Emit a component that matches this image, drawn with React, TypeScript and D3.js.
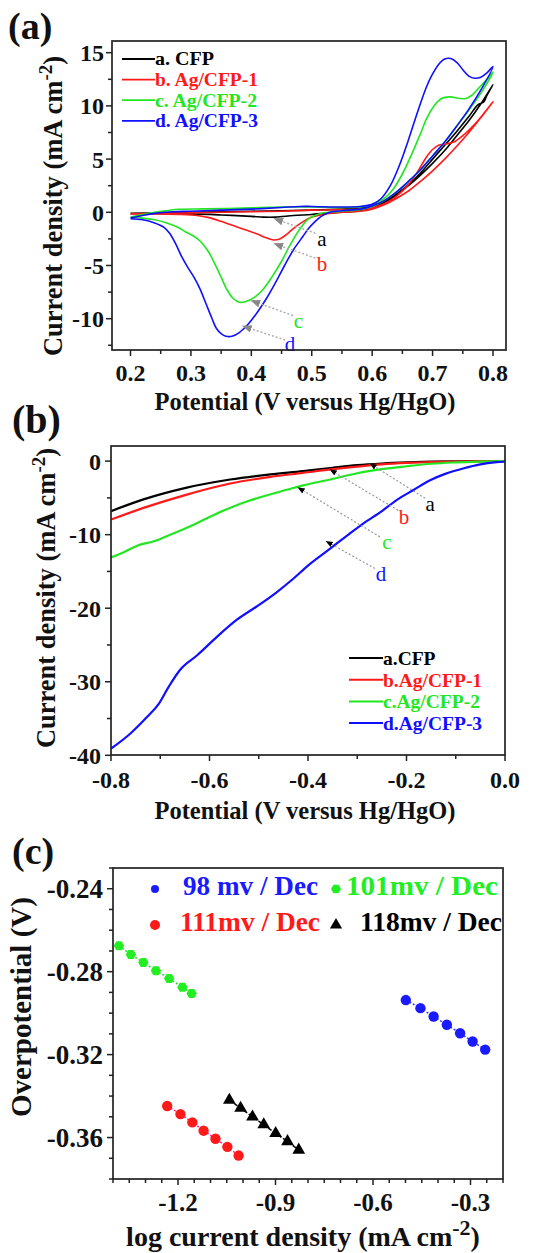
import React from 'react';
import * as d3 from 'd3';

const FONT = "'Liberation Serif','Times New Roman',Times,serif";

// ---------- Panel (a): cyclic voltammetry ----------
const cvNames = ['a. CFP', 'b. Ag/CFP-1', 'c. Ag/CFP-2', 'd. Ag/CFP-3'];
const colors = ['#000000', '#ff1a1a', '#22e622', '#1010ff'];

const cvCFPfwd = [[0.2,-0.1],[0.25,-0.05],[0.3,0.0],[0.35,0.05],[0.4,0.1],[0.45,0.15],[0.5,0.2],[0.55,0.3],[0.58,0.4],[0.6,0.6],[0.62,1.0],[0.64,1.7],[0.66,2.6],[0.68,3.7],[0.7,5.0],[0.72,6.3],[0.74,7.6],[0.76,9.0],[0.775,10.1],[0.785,10.4],[0.79,11.0],[0.8,12.0]];
const cvCFPrev = [[0.8,12.0],[0.78,10.2],[0.76,8.6],[0.74,7.2],[0.72,5.8],[0.7,4.6],[0.68,3.5],[0.66,2.5],[0.64,1.6],[0.62,0.9],[0.6,0.4],[0.58,0.15],[0.55,0.0],[0.52,-0.1],[0.5,-0.2],[0.47,-0.3],[0.44,-0.45],[0.42,-0.45],[0.4,-0.38],[0.35,-0.25],[0.3,-0.15],[0.25,-0.12],[0.2,-0.1]];

const cvAg1fwd = [[0.2,-0.15],[0.25,-0.1],[0.3,-0.05],[0.35,0.0],[0.4,0.05],[0.45,0.1],[0.5,0.2],[0.55,0.25],[0.58,0.3],[0.6,0.45],[0.62,0.8],[0.64,1.5],[0.66,2.6],[0.675,3.8],[0.69,5.2],[0.7,5.9],[0.71,6.3],[0.72,6.4],[0.735,6.6],[0.75,7.2],[0.77,8.3],[0.785,9.3],[0.8,10.4]];
const cvAg1rev = [[0.8,10.4],[0.78,8.9],[0.76,7.5],[0.74,6.2],[0.72,5.0],[0.7,3.9],[0.68,2.9],[0.66,2.0],[0.64,1.3],[0.62,0.7],[0.6,0.3],[0.58,0.1],[0.55,0.0],[0.52,-0.2],[0.5,-0.45],[0.485,-0.9],[0.47,-1.5],[0.458,-2.1],[0.447,-2.5],[0.437,-2.6],[0.425,-2.4],[0.41,-2.05],[0.39,-1.65],[0.37,-1.25],[0.35,-0.85],[0.33,-0.5],[0.31,-0.3],[0.28,-0.2],[0.24,-0.15],[0.2,-0.15]];

const cvAg2fwd = [[0.2,-0.45],[0.22,-0.2],[0.24,0.0],[0.26,0.15],[0.28,0.28],[0.32,0.32],[0.36,0.35],[0.4,0.42],[0.45,0.5],[0.5,0.5],[0.55,0.45],[0.58,0.5],[0.6,0.7],[0.62,1.3],[0.635,2.2],[0.65,3.6],[0.665,5.4],[0.68,7.4],[0.69,8.8],[0.7,9.8],[0.71,10.5],[0.72,10.8],[0.73,10.85],[0.745,10.7],[0.755,10.7],[0.765,11.0],[0.78,11.9],[0.79,12.5],[0.8,13.2]];
const cvAg2rev = [[0.8,13.2],[0.78,11.2],[0.76,9.6],[0.74,8.1],[0.72,6.6],[0.7,5.3],[0.68,4.0],[0.66,2.9],[0.64,1.9],[0.62,1.1],[0.6,0.55],[0.58,0.25],[0.55,0.1],[0.52,-0.05],[0.505,-0.3],[0.495,-0.6],[0.48,-1.6],[0.465,-3.0],[0.45,-4.6],[0.435,-6.0],[0.42,-7.2],[0.405,-8.0],[0.39,-8.4],[0.38,-8.45],[0.37,-8.1],[0.36,-7.3],[0.35,-6.1],[0.34,-4.9],[0.33,-3.8],[0.32,-3.0],[0.31,-2.45],[0.3,-2.1],[0.29,-1.8],[0.28,-1.45],[0.26,-1.0],[0.24,-0.7],[0.22,-0.55],[0.2,-0.45]];

const cvAg3fwd = [[0.2,-0.55],[0.22,-0.3],[0.24,-0.1],[0.27,0.05],[0.3,0.1],[0.35,0.2],[0.4,0.3],[0.45,0.45],[0.48,0.55],[0.5,0.55],[0.55,0.5],[0.58,0.55],[0.6,0.75],[0.615,1.3],[0.63,2.5],[0.645,4.4],[0.66,6.8],[0.675,9.4],[0.69,11.8],[0.7,13.0],[0.71,13.9],[0.72,14.4],[0.73,14.45],[0.74,14.1],[0.75,13.4],[0.76,12.8],[0.77,12.6],[0.78,12.7],[0.79,13.1],[0.8,13.7]];
const cvAg3rev = [[0.8,13.7],[0.78,11.5],[0.76,9.7],[0.74,8.1],[0.72,6.6],[0.7,5.3],[0.68,4.0],[0.66,2.9],[0.64,1.9],[0.62,1.1],[0.6,0.6],[0.58,0.3],[0.55,0.15],[0.53,0.0],[0.515,-0.4],[0.505,-0.9],[0.495,-1.5],[0.485,-2.3],[0.47,-3.5],[0.455,-5.0],[0.44,-6.6],[0.425,-8.1],[0.41,-9.4],[0.395,-10.5],[0.38,-11.3],[0.368,-11.65],[0.358,-11.65],[0.35,-11.4],[0.342,-10.9],[0.335,-10.0],[0.325,-8.6],[0.315,-7.2],[0.305,-6.1],[0.295,-5.2],[0.285,-4.2],[0.275,-3.0],[0.265,-2.0],[0.255,-1.4],[0.24,-1.0],[0.22,-0.7],[0.2,-0.6]];

const cvFwd = [cvCFPfwd, cvAg1fwd, cvAg2fwd, cvAg3fwd];
const cvRev = [cvCFPrev, cvAg1rev, cvAg2rev, cvAg3rev];

const cvLetters = ['a', 'b', 'c', 'd'];
// arrow: [fromX, fromY, toX, toY, labelX, labelY]
const cvArrows = [
  [0.506, -1.97, 0.438, -0.6, 0.517, -2.5],
  [0.506, -4.3, 0.438, -2.95, 0.517, -4.8],
  [0.469, -9.7, 0.40, -8.3, 0.478, -10.15],
  [0.456, -12.0, 0.386, -10.7, 0.464, -12.3],
];

const aXTicks = ['0.2', '0.3', '0.4', '0.5', '0.6', '0.7', '0.8'];
const aYTicks = ['-10', '-5', '0', '5', '10', '15'];

// ---------- Panel (b): LSV ----------
const lsvNames = ['a.CFP', 'b.Ag/CFP-1', 'c.Ag/CFP-2', 'd.Ag/CFP-3'];
const lsvCFP = [[-0.8,-6.8],[-0.734,-5.2],[-0.646,-3.6],[-0.558,-2.5],[-0.476,-1.8],[-0.41,-1.36],[-0.35,-0.9],[-0.3,-0.55],[-0.25,-0.33],[-0.2,-0.18],[-0.15,-0.08],[-0.1,-0.03],[0,0]];
const lsvAg1 = [[-0.8,-7.95],[-0.734,-6.36],[-0.646,-4.55],[-0.558,-3.05],[-0.476,-2.14],[-0.41,-1.6],[-0.35,-1.1],[-0.3,-0.75],[-0.25,-0.45],[-0.2,-0.25],[-0.15,-0.12],[-0.1,-0.05],[0,0]];
const lsvAg2 = [[-0.8,-13.1],[-0.774,-12.4],[-0.747,-11.5],[-0.713,-10.9],[-0.68,-10.0],[-0.64,-8.9],[-0.6,-7.6],[-0.56,-6.4],[-0.52,-5.4],[-0.476,-4.5],[-0.443,-3.9],[-0.41,-3.3],[-0.355,-2.5],[-0.3,-1.65],[-0.25,-1.1],[-0.2,-0.7],[-0.15,-0.36],[-0.1,-0.18],[-0.05,-0.07],[0,0]];
const lsvAg3 = [[-0.8,-39.1],[-0.76,-37.0],[-0.727,-34.8],[-0.703,-33.0],[-0.683,-30.7],[-0.66,-28.4],[-0.625,-26.4],[-0.585,-23.9],[-0.545,-21.6],[-0.505,-19.8],[-0.465,-17.9],[-0.43,-16.0],[-0.4,-14.2],[-0.355,-11.9],[-0.32,-10.1],[-0.288,-8.5],[-0.25,-6.8],[-0.22,-5.3],[-0.185,-3.9],[-0.152,-2.6],[-0.12,-1.7],[-0.085,-1.0],[-0.05,-0.45],[-0.017,-0.15],[0,-0.05]];
const lsvSeries = [lsvCFP, lsvAg1, lsvAg2, lsvAg3];
const lsvArrows = [
  [-0.162, -5.06, -0.274, -0.35, -0.152, -5.74],
  [-0.217, -6.7, -0.355, -1.17, -0.205, -7.6],
  [-0.254, -10.3, -0.42, -3.6, -0.24, -11.0],
  [-0.264, -14.6, -0.363, -10.9, -0.252, -15.3],
];
const bXTicks = ['-0.8', '-0.6', '-0.4', '-0.2', '0.0'];
const bYTicks = ['-40', '-30', '-20', '-10', '0'];

// ---------- Panel (c): Tafel ----------
const tafelNames = ['98 mv / Dec', '101mv / Dec', '111mv / Dec', '118mv / Dec'];
const tafelColors = ['#1a1aff', '#22ee22', '#ff1a1a', '#000000'];
const tafelLineColors = ['#3030ff', '#22dd22', '#ff20a0', '#000000'];
const tafelBlueX = [-0.499, -0.454, -0.4135, -0.3728, -0.332, -0.2935, -0.2548];
const tafelBlueY = [-0.2937, -0.2976, -0.3016, -0.3056, -0.3097, -0.3137, -0.3176];
const tafelGreenX = [-1.3817, -1.345, -1.3064, -1.2678, -1.2271, -1.1864, -1.158];
const tafelGreenY = [-0.2675, -0.2717, -0.2756, -0.2795, -0.2833, -0.2875, -0.2905];
const tafelRedX = [-1.2332, -1.1925, -1.1559, -1.1213, -1.0847, -1.0481, -1.0135];
const tafelRedY = [-0.3448, -0.3487, -0.3527, -0.3567, -0.3606, -0.3645, -0.3687];
const tafelBlackX = [-1.042, -1.0074, -0.9708, -0.9362, -0.8996, -0.863, -0.8285];
const tafelBlackY = [-0.3419, -0.3458, -0.35, -0.3538, -0.358, -0.3619, -0.366];
const tafelX = [tafelBlueX, tafelGreenX, tafelRedX, tafelBlackX];
const tafelY = [tafelBlueY, tafelGreenY, tafelRedY, tafelBlackY];
const tafelShapes = ['circle', 'hexagon', 'circle', 'triangle'];
const tafelDash = ['2,2', '2,2', '2,2', '4,2'];
const cXTicks = ['-1.2', '-0.9', '-0.6', '-0.3'];
const cYTicks = ['-0.24', '-0.28', '-0.32', '-0.36'];

// ---------- helpers ----------
const stepRange = (a: number, b: number, s: number) => {
  const n = Math.round((b - a) / s);
  return d3.range(n + 1).map((i) => +(a + i * s).toFixed(6));
};

type Frame = { l: number; r: number; t: number; b: number };

function Axes(props: {
  f: Frame; x: any; y: any; xMinor: number[]; yMinor: number[];
  xMajor: string[]; yMajor: string[]; xLabelY: number; yLabelX: number; fs: number; fsY?: number;
}) {
  const { f, x, y, xMinor, yMinor, xMajor, yMajor, xLabelY, yLabelX, fs } = props;
  const fsY = props.fsY || fs;
  const majX = new Set(xMajor.map((s) => +(+s).toFixed(6)));
  const majY = new Set(yMajor.map((s) => +(+s).toFixed(6)));
  return (
    <g>
      <rect x={f.l} y={f.t} width={f.r - f.l} height={f.b - f.t} fill="none" stroke="#222" strokeWidth={1.7} />
      {xMinor.map((v, i) => (
        <line key={'xt' + i} x1={x(v)} x2={x(v)} y1={f.b} y2={f.b + (majX.has(v) ? 6 : 4)} stroke="#222" strokeWidth={1.5} />
      ))}
      {yMinor.map((v, i) => (
        <line key={'yt' + i} y1={y(v)} y2={y(v)} x1={f.l} x2={f.l - (majY.has(v) ? 6 : 4)} stroke="#222" strokeWidth={1.5} />
      ))}
      {xMajor.map((s, i) => (
        <text key={'xl' + i} x={x(+s)} y={xLabelY} textAnchor="middle" fontFamily={FONT} fontWeight="bold" fontSize={fs} fill="#111">{s}</text>
      ))}
      {yMajor.map((s, i) => (
        <text key={'yl' + i} x={yLabelX} y={y(+s)} dy="0.35em" textAnchor="end" fontFamily={FONT} fontWeight="bold" fontSize={fsY} fill="#111">{s}</text>
      ))}
    </g>
  );
}

function hexPath(cx: number, cy: number, r: number) {
  const pts = d3.range(6).map((k) => {
    const a = (Math.PI / 3) * k;
    return [cx + r * Math.cos(a), cy + r * Math.sin(a)];
  });
  return 'M' + pts.map((p) => p.join(',')).join('L') + 'Z';
}

function Marker({ shape, cx, cy, color, r }: any) {
  if (shape === 'triangle') {
    const p = d3.symbol().type(d3.symbolTriangle).size(r * r * 2.6)();
    return <path d={p as string} transform={`translate(${cx},${cy})`} fill={color} />;
  }
  if (shape === 'hexagon') return <path d={hexPath(cx, cy, r)} fill={color} />;
  return <circle cx={cx} cy={cy} r={r} fill={color} />;
}

export default function App() {
  // Panel (a)
  const fA: Frame = { l: 112, r: 506, t: 41, b: 350 };
  const xA = d3.scaleLinear().domain([0.2, 0.8]).range([130.5, 493]);
  const yA = d3.scaleLinear().domain([-10, 15]).range([318.7, 52.7]);
  const lineA = d3.line<number[]>().x((d) => xA(d[0])).y((d) => yA(d[1])).curve(d3.curveCatmullRom.alpha(0.5));

  // Panel (b)
  const fB: Frame = { l: 111, r: 505, t: 446, b: 755 };
  const xB = d3.scaleLinear().domain([-0.8, 0]).range([111, 505]);
  const yB = d3.scaleLinear().domain([-40, 2]).range([755.3, 446.4]);
  const lineB = d3.line<number[]>().x((d) => xB(d[0])).y((d) => yB(d[1])).curve(d3.curveMonotoneX);

  // Panel (c)
  const fC: Frame = { l: 113, r: 503, t: 868, b: 1179 };
  const xC = d3.scaleLinear().domain([-1.4, -0.2]).range([113, 503]);
  const yC = d3.scaleLinear().domain([-0.38, -0.23]).range([1179, 868]);

  const legendCWidths = [135, 152, 140, 142];
  const legendAWidths = [59, 103, 102, 103];

  return (
    <svg width={552} height={1253} style={{ position: 'absolute', left: 0, top: 0, background: '#fff' }} fontFamily={FONT}>
      <defs>
        <marker id="arrGray" viewBox="0 0 10 10" refX="9" refY="5" markerWidth="7" markerHeight="7" orient="auto">
          <path d="M0,1 L10,5 L0,9 Z" fill="#888" />
        </marker>
        <marker id="arrBlack" viewBox="0 0 10 10" refX="9" refY="5" markerWidth="6" markerHeight="6" orient="auto">
          <path d="M0,1 L10,5 L0,9 Z" fill="#000" />
        </marker>
        <clipPath id="clipA"><rect x={fA.l} y={fA.t} width={fA.r - fA.l} height={fA.b - fA.t} /></clipPath>
        <clipPath id="clipB"><rect x={fB.l} y={fB.t} width={fB.r - fB.l} height={fB.b - fB.t} /></clipPath>
      </defs>
      <rect x={0} y={0} width={552} height={1253} fill="#fff" />

      {/* ===== Panel (a) ===== */}
      <text x={8} y={39} fontWeight="bold" fontSize={38} fill="#111">(a)</text>
      <g clipPath="url(#clipA)">
        {cvFwd.map((fwd, i) => (
          <path key={'cv' + i} d={lineA(fwd.concat(cvRev[i].slice(1))) as string} fill="none" stroke={colors[i]} strokeWidth={1.6} />
        ))}
      </g>
      {cvArrows.map((a, i) => (
        <g key={'cva' + i}>
          <line x1={xA(a[0])} y1={yA(a[1])} x2={xA(a[2])} y2={yA(a[3])} stroke="#aaa" strokeWidth={1.4} strokeDasharray="2,2" markerEnd="url(#arrGray)" />
          <text x={xA(a[4])} y={yA(a[5])} dy="0.35em" textAnchor="middle" fontSize={21} fill={colors[i]}>{cvLetters[i]}</text>
        </g>
      ))}
      <Axes f={fA} x={xA} y={yA} xMinor={stepRange(0.2, 0.8, 0.05)} yMinor={stepRange(-12.5, 15, 2.5)}
        xMajor={aXTicks} yMajor={aYTicks} xLabelY={381} yLabelX={104} fs={24} />
      {cvNames.map((n, i) => (
        <g key={'lga' + i}>
          <line x1={122} x2={155} y1={59 + i * 20.6} y2={59 + i * 20.6} stroke={colors[i]} strokeWidth={1.8} />
          <text x={155} y={59 + i * 20.6} dy="0.35em" fontWeight="bold" fontSize={18.5} textLength={legendAWidths[i]} lengthAdjust="spacingAndGlyphs" fill={colors[i]}>{n}</text>
        </g>
      ))}
      <text transform={`translate(62,206) rotate(-90)`} textAnchor="middle" fontWeight="bold" fontSize={26.5} fill="#111">
        Current density (mA cm<tspan dy={-10} fontSize={19}>-2</tspan><tspan dy={10}>)</tspan>
      </text>
      <text x={305} y={410} textAnchor="middle" fontWeight="bold" fontSize={24.5} fill="#111">Potential (V versus Hg/HgO)</text>

      {/* ===== Panel (b) ===== */}
      <text x={12} y={433} fontWeight="bold" fontSize={40} fill="#111">(b)</text>
      <g clipPath="url(#clipB)">
        {lsvSeries.map((s, i) => (
          <path key={'lsv' + i} d={lineB(s) as string} fill="none" stroke={colors[i]} strokeWidth={2.2} />
        ))}
      </g>
      {lsvArrows.map((a, i) => (
        <g key={'lsa' + i}>
          <line x1={xB(a[0])} y1={yB(a[1])} x2={xB(a[2])} y2={yB(a[3])} stroke="#999" strokeWidth={1.2} strokeDasharray="2,2" markerEnd="url(#arrBlack)" />
          <text x={xB(a[4])} y={yB(a[5])} dy="0.35em" textAnchor="middle" fontSize={21} fill={colors[i]}>{cvLetters[i]}</text>
        </g>
      ))}
      <Axes f={fB} x={xB} y={yB} xMinor={stepRange(-0.8, 0, 0.1)} yMinor={stepRange(-40, 0, 5)}
        xMajor={bXTicks} yMajor={bYTicks} xLabelY={788} yLabelX={101} fs={24} />
      {lsvNames.map((n, i) => (
        <g key={'lgb' + i}>
          <line x1={349} x2={383} y1={658 + i * 21.7} y2={658 + i * 21.7} stroke={colors[i]} strokeWidth={2} />
          <text x={383} y={658 + i * 21.7} dy="0.35em" fontWeight="bold" fontSize={19.5} fill={colors[i]}>{n}</text>
        </g>
      ))}
      <text transform={`translate(55,598) rotate(-90)`} textAnchor="middle" fontWeight="bold" fontSize={26.5} fill="#111">
        Current density (mA cm<tspan dy={-10} fontSize={19}>-2</tspan><tspan dy={10}>)</tspan>
      </text>
      <text x={305} y={819} textAnchor="middle" fontWeight="bold" fontSize={24.5} fill="#111">Potential (V versus Hg/HgO)</text>

      {/* ===== Panel (c) ===== */}
      <text x={12} y={864} fontWeight="bold" fontSize={38} fill="#111">(c)</text>
      {tafelX.map((xs, i) => {
        const pts = xs.map((v, k) => [v, tafelY[i][k]]);
        const ln = d3.line<number[]>().x((d) => xC(d[0])).y((d) => yC(d[1]));
        return (
          <g key={'tf' + i}>
            <path d={ln(pts) as string} fill="none" stroke={tafelLineColors[i]} strokeWidth={1.5} strokeDasharray={tafelDash[i]} />
            {pts.map((p, k) => (
              <Marker key={k} shape={tafelShapes[i]} cx={xC(p[0])} cy={yC(p[1])} color={tafelColors[i]} r={5.2} />
            ))}
          </g>
        );
      })}
      <Axes f={fC} x={xC} y={yC} xMinor={stepRange(-1.4, -0.2, 0.05)} yMinor={stepRange(-0.38, -0.23, 0.01)}
        xMajor={cXTicks} yMajor={cYTicks} xLabelY={1211} yLabelX={103} fs={25} fsY={27} />
      {/* legend (c) */}
      {tafelNames.map((n, i) => {
        const col = i % 2;
        const row = Math.floor(i / 2);
        const mx = col === 0 ? 155 : 336;
        const tx = [183, 346, 180, 360][i];
        const ty = row === 0 ? 895 : 931;
        return (
          <g key={'lgc' + i}>
            <Marker shape={tafelShapes[i]} cx={mx} cy={ty - 6} color={tafelColors[i]} r={i === 0 ? 4 : 5} />
            <text x={tx} y={ty} fontWeight="bold" fontSize={27} textLength={legendCWidths[i]} lengthAdjust="spacingAndGlyphs" fill={tafelColors[i]}>{n}</text>
          </g>
        );
      })}
      <text transform={`translate(31,1007) rotate(-90)`} textAnchor="middle" fontWeight="bold" fontSize={29} fill="#111">Overpotential (V)</text>
      <text x={303} y={1246} textAnchor="middle" fontWeight="bold" fontSize={28} fill="#111">
        log current density (mA cm<tspan dy={-11} fontSize={22}>-2</tspan><tspan dy={11}>)</tspan>
      </text>
    </svg>
  );
}
